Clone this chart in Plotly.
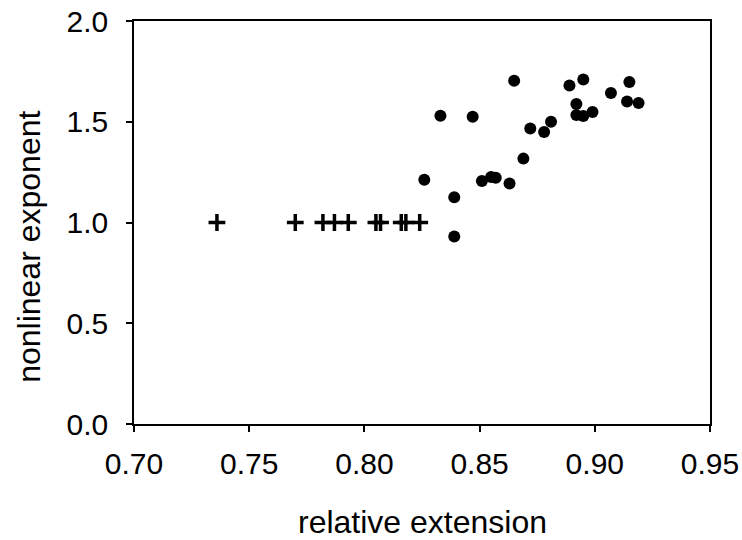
import plotly.graph_objects as go

# Linear-regime points (nonlinear exponent = 1), drawn as crosses
cross_x = [0.736, 0.770, 0.782, 0.787, 0.793, 0.805, 0.807, 0.816, 0.818, 0.824]
cross_y = [1.0, 1.0, 1.0, 1.0, 1.0, 1.0, 1.0, 1.0, 1.0, 1.0]

# Nonlinear points, drawn as filled circles
dot_x = [0.833, 0.847, 0.865, 0.889, 0.895, 0.915, 0.907, 0.892, 0.914, 0.919,
         0.892, 0.895, 0.899, 0.881, 0.872, 0.878, 0.869, 0.826, 0.851, 0.855,
         0.857, 0.863, 0.839, 0.839]
dot_y = [1.530, 1.525, 1.704, 1.680, 1.710, 1.697, 1.643, 1.588, 1.600, 1.593,
         1.533, 1.528, 1.548, 1.500, 1.467, 1.449, 1.317, 1.212, 1.206, 1.226,
         1.222, 1.193, 1.125, 0.931]

x_ticks = [0.70, 0.75, 0.80, 0.85, 0.90, 0.95]
x_tick_labels = ["0.70", "0.75", "0.80", "0.85", "0.90", "0.95"]
y_ticks = [0.0, 0.5, 1.0, 1.5, 2.0]
y_tick_labels = ["0.0", "0.5", "1.0", "1.5", "2.0"]

FONT = "Liberation Sans, Arial, sans-serif"

fig = go.Figure()
fig.add_trace(go.Scatter(
    x=cross_x, y=cross_y, mode="markers",
    marker=dict(symbol="cross-thin", size=12, line=dict(width=3.5, color="black")),
    showlegend=False, cliponaxis=False))
fig.add_trace(go.Scatter(
    x=dot_x, y=dot_y, mode="markers",
    marker=dict(symbol="circle", size=12, color="black", line=dict(width=0)),
    showlegend=False, cliponaxis=False))

axis_common = dict(showgrid=False, zeroline=False, showline=True, linecolor="black",
                   linewidth=1.5, mirror=True, ticks="outside", ticklen=6,
                   tickwidth=1.5, tickcolor="black", ticklabeloverflow="allow",
                   tickfont=dict(family=FONT, size=30, color="black"))

fig.update_xaxes(range=[0.70, 0.95], tickvals=x_ticks, ticktext=x_tick_labels,
                 ticklabelstandoff=6, **axis_common)
fig.update_yaxes(range=[0.0, 2.0], tickvals=y_ticks, ticktext=y_tick_labels,
                 ticklabelstandoff=12, **axis_common)

fig.add_annotation(text="relative extension", xref="paper", yref="paper",
                   x=0.5, y=-0.242, yanchor="middle", xanchor="center", showarrow=False,
                   borderpad=0, font=dict(family=FONT, size=32, color="black"))
fig.add_annotation(text="nonlinear exponent", xref="paper", yref="paper",
                   x=-0.182, y=0.44, textangle=-90, xanchor="center", yanchor="middle",
                   showarrow=False, font=dict(family=FONT, size=32, color="black"))

fig.update_layout(width=742, height=540, plot_bgcolor="white", paper_bgcolor="white",
                  margin=dict(l=134, r=32, t=21, b=116, autoexpand=False))

# remove the default page margin so the 742x540 figure fills the window exactly
fig.write_html("out.html", config={"displayModeBar": False},
               post_script="document.body.style.margin='0px';"
                           "document.body.style.overflow='hidden';")
